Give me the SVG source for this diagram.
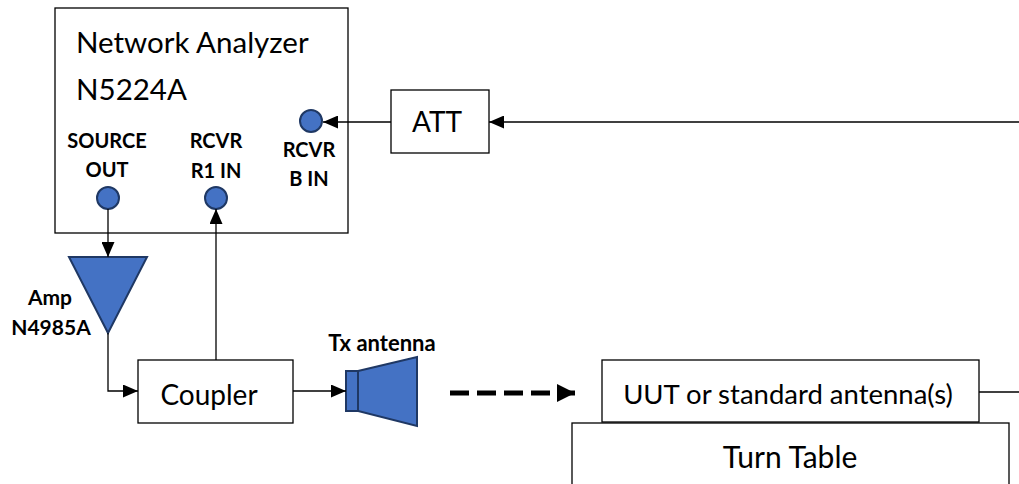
<svg xmlns="http://www.w3.org/2000/svg" width="1019" height="484" viewBox="0 0 1019 484">
<style>
.box{fill:#fff;stroke:#000;stroke-width:1.3}
.ln{fill:none;stroke:#000;stroke-width:1.3}
.port{fill:#4472C4;stroke:#1F3864;stroke-width:2}
.blue{fill:#4472C4;stroke:#1F3864;stroke-width:2;stroke-linejoin:miter}
.t{font-family:Lato,"Liberation Sans",sans-serif;fill:#000}
.big{font-size:29.5px}
.mid{font-size:28px;text-anchor:middle}
.b{font-size:20px;font-weight:bold;text-anchor:middle}
</style>
<defs>
<marker id="ah" markerUnits="userSpaceOnUse" markerWidth="15" markerHeight="13" refX="15" refY="6.5" orient="auto">
<path d="M0,0 L15,6.5 L0,13 z" fill="#000"/>
</marker>
<marker id="ahb" markerUnits="userSpaceOnUse" markerWidth="18" markerHeight="18" refX="18" refY="9" orient="auto">
<path d="M0,0 L18,9 L0,18 z" fill="#000"/>
</marker>
</defs>
<rect width="1019" height="484" fill="#fff"/>
<g id="network-analyzer">
<rect class="box" x="55" y="8" width="293" height="225"/>
<text class="t big" x="76" y="53">Network Analyzer</text>
<text class="t big" x="76" y="100">N5224A</text>
<text class="t b" x="107" y="148">SOURCE</text>
<text class="t b" x="107" y="177">OUT</text>
<text class="t b" x="216" y="148">RCVR</text>
<text class="t b" x="216" y="178">R1 IN</text>
<text class="t b" x="309" y="157">RCVR</text>
<text class="t b" x="309" y="186">B IN</text>
<circle class="port" cx="108" cy="198" r="11"/>
<circle class="port" cx="216" cy="198" r="11"/>
<circle class="port" cx="311" cy="121" r="11"/>
</g>
<g id="att">
<rect class="box" x="391" y="90" width="98" height="63"/>
<text class="t mid" x="437" y="132">ATT</text>
</g>
<g id="amp">
<polygon class="blue" points="69,257 147,257 108,333"/>
<text class="t b" x="50" y="305" style="font-size:21px">Amp</text>
<text class="t b" x="51" y="335" style="font-size:21px">N4985A</text>
</g>
<g id="coupler">
<rect class="box" x="138" y="360" width="155" height="63"/>
<text class="t mid" x="209" y="405">Coupler</text>
</g>
<g id="tx-antenna">
<polygon class="blue" points="358,371 417,357 417,426 358,411"/>
<rect class="blue" x="346" y="371" width="12" height="40"/>
<text class="t b" x="382" y="351" style="font-size:22px">Tx antenna</text>
</g>
<g id="uut">
<rect class="box" x="602" y="360" width="377" height="62"/>
<text class="t mid" x="788" y="404" style="font-size:27.5px">UUT or standard antenna(s)</text>
</g>
<g id="turn-table">
<rect class="box" x="572" y="423" width="437" height="70"/>
<text class="t mid" x="790" y="468" style="font-size:30px">Turn Table</text>
</g>
<g id="connectors">
<line class="ln" x1="1019" y1="122" x2="489" y2="122" marker-end="url(#ah)"/>
<line class="ln" x1="391" y1="122" x2="323" y2="122" marker-end="url(#ah)"/>
<line class="ln" x1="108" y1="209" x2="108" y2="257" marker-end="url(#ah)"/>
<polyline class="ln" points="108,333 108,391 138,391" marker-end="url(#ah)"/>
<line class="ln" x1="216" y1="360" x2="216" y2="209" marker-end="url(#ah)"/>
<line class="ln" x1="293" y1="391" x2="346" y2="391" marker-end="url(#ah)"/>
<line x1="450" y1="393" x2="575" y2="393" stroke="#000" stroke-width="5" stroke-dasharray="19,8" marker-end="url(#ahb)"/>
<line class="ln" x1="979" y1="392" x2="1019" y2="392"/>
</g>
</svg>
